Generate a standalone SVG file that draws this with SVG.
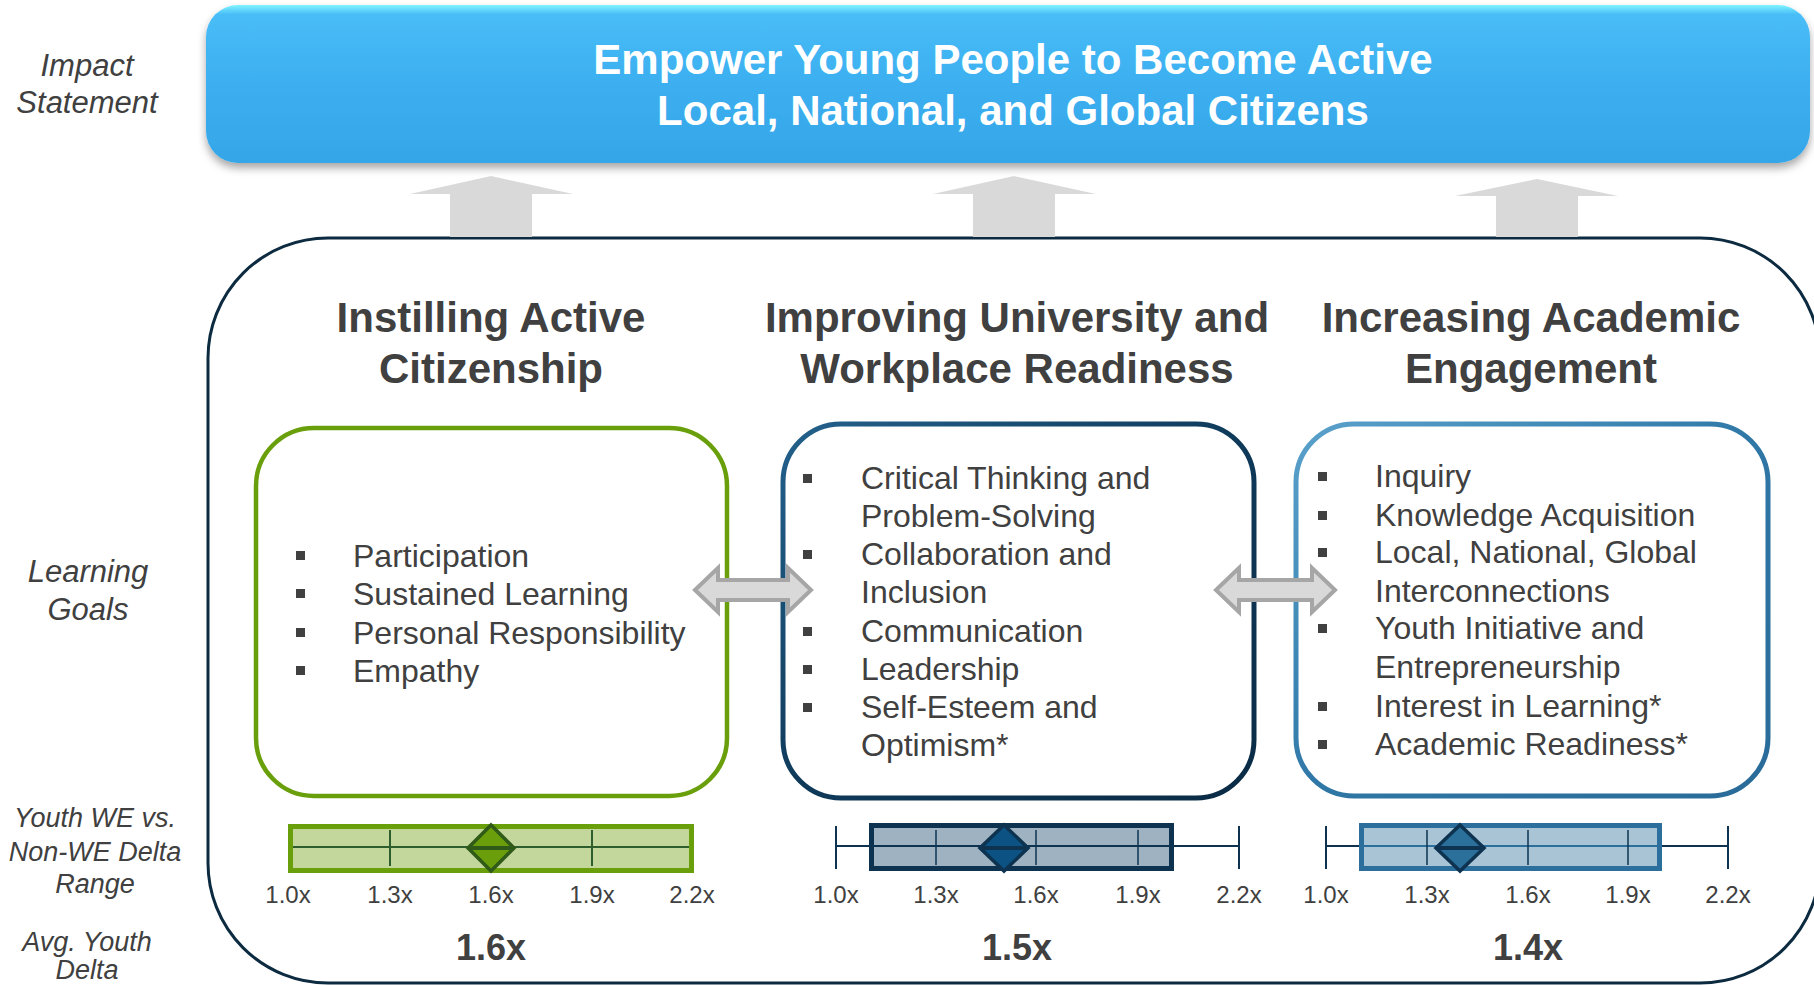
<svg xmlns="http://www.w3.org/2000/svg" width="1814" height="985" viewBox="0 0 1814 985">
  <defs>
    <style>
      .side { font-family: "Liberation Sans", Arial, sans-serif; font-style: italic; fill: #404040; text-anchor: middle; }
      .head { font-family: "Liberation Sans", Arial, sans-serif; font-weight: bold; font-size: 42px; fill: #404040; text-anchor: middle; }
      .item { font-family: "Liberation Sans", Arial, sans-serif; font-size: 32px; fill: #404040; }
      .axis { font-family: "Liberation Sans", Arial, sans-serif; font-size: 24px; fill: #404040; text-anchor: middle; }
      .avg { font-family: "Liberation Sans", Arial, sans-serif; font-weight: bold; font-size: 36px; fill: #404040; text-anchor: middle; }
      .banner-text { font-family: "Liberation Sans", Arial, sans-serif; font-weight: bold; font-size: 42px; fill: #ffffff; text-anchor: middle; }
      .bullet { fill: #404040; }
      .uparrow { fill: #d9d9d9; }
      .twoway { fill: #d9d9d9; stroke: #a6a6a6; stroke-width: 4; stroke-linejoin: miter; }
    </style>
    <linearGradient id="bannerFill" x1="0" y1="0" x2="0" y2="1">
      <stop offset="0" stop-color="#7ff4ff"/>
      <stop offset="0.06" stop-color="#48bdf7"/>
      <stop offset="0.5" stop-color="#3caff0"/>
      <stop offset="1" stop-color="#35a6e8"/>
    </linearGradient>
    <linearGradient id="navyEdge" x1="0" y1="0" x2="1" y2="1">
      <stop offset="0" stop-color="#23618c"/>
      <stop offset="0.5" stop-color="#0f3a5a"/>
      <stop offset="1" stop-color="#0a2b45"/>
    </linearGradient>
    <linearGradient id="steelEdge" x1="0" y1="0" x2="1" y2="1">
      <stop offset="0" stop-color="#5aa2cc"/>
      <stop offset="0.5" stop-color="#2f77a6"/>
      <stop offset="1" stop-color="#2a6b98"/>
    </linearGradient>
    <filter id="bannerShadow" x="-5%" y="-10%" width="110%" height="130%">
      <feDropShadow dx="0" dy="5" stdDeviation="4" flood-color="#000" flood-opacity="0.35"/>
    </filter>
  </defs>

  <rect width="1814" height="985" fill="#ffffff"/>

  <!-- row labels on the left -->
  <g id="row-labels">
    <text class="side" font-size="31" x="87" y="76">Impact</text>
    <text class="side" font-size="31" x="87" y="113">Statement</text>
    <text class="side" font-size="31" x="88" y="582">Learning</text>
    <text class="side" font-size="31" x="88" y="620">Goals</text>
    <text class="side" font-size="27" x="95" y="827">Youth WE vs.</text>
    <text class="side" font-size="27" x="95" y="861">Non-WE Delta</text>
    <text class="side" font-size="27" x="95" y="893">Range</text>
    <text class="side" font-size="27" x="87" y="951">Avg. Youth</text>
    <text class="side" font-size="27" x="87" y="979">Delta</text>
  </g>

  <!-- impact statement banner -->
  <g id="impact-banner">
    <rect x="206" y="5" width="1604" height="158" rx="32" fill="url(#bannerFill)" filter="url(#bannerShadow)"/>
    <text class="banner-text" x="1013" y="74">Empower Young People to Become Active</text>
    <text class="banner-text" x="1013" y="125">Local, National, and Global Citizens</text>
  </g>

  <!-- frame around the three learning goals -->
  <g id="goals-frame">
    <rect x="208" y="238" width="1612" height="745" rx="120" fill="none" stroke="#0d2b40" stroke-width="3"/>
  </g>

  <!-- goal 1 -->
  <g id="goal-citizenship">
    <text class="head" x="491" y="332">Instilling Active</text>
    <text class="head" x="491" y="383">Citizenship</text>
    <rect x="256" y="428" width="471" height="368" rx="58" fill="#ffffff" stroke="#6a9f0c" stroke-width="4.5"/>
    <rect class="bullet" x="296" y="551" width="9" height="9"/>
    <rect class="bullet" x="296" y="589" width="9" height="9"/>
    <rect class="bullet" x="296" y="628" width="9" height="9"/>
    <rect class="bullet" x="296" y="666" width="9" height="9"/>
    <text class="item" x="353" y="567">Participation</text>
    <text class="item" x="353" y="605">Sustained Learning</text>
    <text class="item" x="353" y="644">Personal Responsibility</text>
    <text class="item" x="353" y="682">Empathy</text>
    <!-- delta range 1.0x to 2.2x -->
    <rect x="290.5" y="826.5" width="401" height="44" fill="#c3d69b" stroke="#6a9f0c" stroke-width="5"/>
    <line x1="293" y1="847" x2="689" y2="847" stroke="#2e5e2e" stroke-width="2"/>
    <line x1="390" y1="830" x2="390" y2="866" stroke="#2e5e2e" stroke-width="2"/>
    <line x1="592" y1="830" x2="592" y2="866" stroke="#2e5e2e" stroke-width="2"/>
    <polygon points="491,825 514,848 491,871 468,848" fill="#6a9e0a" stroke="#2f5a17" stroke-width="3.5" stroke-linejoin="miter"/>
    <line x1="468" y1="848" x2="514" y2="848" stroke="#2f5a17" stroke-width="4"/>
    <text class="axis" x="288" y="903">1.0x</text>
    <text class="axis" x="390" y="903">1.3x</text>
    <text class="axis" x="491" y="903">1.6x</text>
    <text class="axis" x="592" y="903">1.9x</text>
    <text class="axis" x="692" y="903">2.2x</text>
    <text class="avg" x="491" y="960">1.6x</text>
  </g>

  <!-- goal 2 -->
  <g id="goal-readiness">
    <text class="head" x="1017" y="332">Improving University and</text>
    <text class="head" x="1017" y="383">Workplace Readiness</text>
    <rect x="783" y="424" width="471" height="374" rx="58" fill="#ffffff" stroke="url(#navyEdge)" stroke-width="5"/>
    <rect class="bullet" x="803" y="474" width="9" height="9"/>
    <rect class="bullet" x="803" y="550" width="9" height="9"/>
    <rect class="bullet" x="803" y="627" width="9" height="9"/>
    <rect class="bullet" x="803" y="665" width="9" height="9"/>
    <rect class="bullet" x="803" y="703" width="9" height="9"/>
    <text class="item" x="861" y="489">Critical Thinking and</text>
    <text class="item" x="861" y="527">Problem-Solving</text>
    <text class="item" x="861" y="565">Collaboration and</text>
    <text class="item" x="861" y="603">Inclusion</text>
    <text class="item" x="861" y="642">Communication</text>
    <text class="item" x="861" y="680">Leadership</text>
    <text class="item" x="861" y="718">Self-Esteem and</text>
    <text class="item" x="861" y="756">Optimism*</text>
    <!-- delta range 1.1x to 2.0x, whiskers 1.0x to 2.2x -->
    <line x1="836" y1="846" x2="1239" y2="846" stroke="#0d3350" stroke-width="2"/>
    <line x1="836" y1="826" x2="836" y2="869" stroke="#0d3350" stroke-width="2"/>
    <line x1="1239" y1="826" x2="1239" y2="869" stroke="#0d3350" stroke-width="2"/>
    <rect x="871.5" y="825.5" width="300" height="43" fill="#9fb2c1" stroke="#0d3350" stroke-width="5"/>
    <line x1="874" y1="846" x2="1169" y2="846" stroke="#0d3350" stroke-width="2"/>
    <line x1="936" y1="830" x2="936" y2="865" stroke="#0d3350" stroke-width="1.5"/>
    <line x1="1036" y1="830" x2="1036" y2="865" stroke="#0d3350" stroke-width="1.5"/>
    <line x1="1138" y1="830" x2="1138" y2="865" stroke="#0d3350" stroke-width="1.5"/>
    <polygon points="1004,825 1028,848 1004,871 980,848" fill="#0c5282" stroke="#0d3350" stroke-width="3.5" stroke-linejoin="miter"/>
    <line x1="980" y1="848" x2="1028" y2="848" stroke="#0d3350" stroke-width="4"/>
    <text class="axis" x="836" y="903">1.0x</text>
    <text class="axis" x="936" y="903">1.3x</text>
    <text class="axis" x="1036" y="903">1.6x</text>
    <text class="axis" x="1138" y="903">1.9x</text>
    <text class="axis" x="1239" y="903">2.2x</text>
    <text class="avg" x="1017" y="960">1.5x</text>
  </g>

  <!-- goal 3 -->
  <g id="goal-engagement">
    <text class="head" x="1531" y="332">Increasing Academic</text>
    <text class="head" x="1531" y="383">Engagement</text>
    <rect x="1296" y="424" width="472" height="372" rx="58" fill="#ffffff" stroke="url(#steelEdge)" stroke-width="5"/>
    <rect class="bullet" x="1318" y="472" width="9" height="9"/>
    <rect class="bullet" x="1318" y="511" width="9" height="9"/>
    <rect class="bullet" x="1318" y="548" width="9" height="9"/>
    <rect class="bullet" x="1318" y="624" width="9" height="9"/>
    <rect class="bullet" x="1318" y="702" width="9" height="9"/>
    <rect class="bullet" x="1318" y="740" width="9" height="9"/>
    <text class="item" x="1375" y="487">Inquiry</text>
    <text class="item" x="1375" y="526">Knowledge Acquisition</text>
    <text class="item" x="1375" y="563">Local, National, Global</text>
    <text class="item" x="1375" y="602">Interconnections</text>
    <text class="item" x="1375" y="639">Youth Initiative and</text>
    <text class="item" x="1375" y="678">Entrepreneurship</text>
    <text class="item" x="1375" y="717">Interest in Learning*</text>
    <text class="item" x="1375" y="755">Academic Readiness*</text>
    <!-- delta range 1.1x to 2.0x, whiskers 1.0x to 2.2x -->
    <line x1="1326" y1="846" x2="1728" y2="846" stroke="#0d3350" stroke-width="2"/>
    <line x1="1326" y1="826" x2="1326" y2="869" stroke="#0d3350" stroke-width="2"/>
    <line x1="1728" y1="826" x2="1728" y2="869" stroke="#0d3350" stroke-width="2"/>
    <rect x="1361.5" y="825.5" width="298" height="43" fill="#a9c5d5" stroke="#2d6f9c" stroke-width="5"/>
    <line x1="1364" y1="846" x2="1657" y2="846" stroke="#2d6f9c" stroke-width="2"/>
    <line x1="1427" y1="830" x2="1427" y2="865" stroke="#0d3350" stroke-width="1.5"/>
    <line x1="1528" y1="830" x2="1528" y2="865" stroke="#0d3350" stroke-width="1.5"/>
    <line x1="1628" y1="830" x2="1628" y2="865" stroke="#0d3350" stroke-width="1.5"/>
    <polygon points="1460,825 1484,848 1460,871 1436,848" fill="#2b6f9b" stroke="#0d3350" stroke-width="3.5" stroke-linejoin="miter"/>
    <line x1="1436" y1="848" x2="1484" y2="848" stroke="#0d3350" stroke-width="4"/>
    <text class="axis" x="1326" y="903">1.0x</text>
    <text class="axis" x="1427" y="903">1.3x</text>
    <text class="axis" x="1528" y="903">1.6x</text>
    <text class="axis" x="1628" y="903">1.9x</text>
    <text class="axis" x="1728" y="903">2.2x</text>
    <text class="avg" x="1528" y="960">1.4x</text>
  </g>

  <!-- arrows: goals feed the impact statement; neighbouring goals reinforce each other -->
  <g id="connectors">
    <polygon class="uparrow" points="491,176 573,194 532,194 532,237 450,237 450,194 410,194"/>
    <polygon class="uparrow" points="1014,176 1096,194 1055,194 1055,237 973,237 973,194 933,194"/>
    <polygon class="uparrow" points="1537,179 1618,196 1578,196 1578,237 1496,237 1496,196 1455,196"/>
    <polygon class="twoway" points="695,590 718,568 718,580 788,580 788,568 811,590 788,612 788,600 718,600 718,612"/>
    <polygon class="twoway" points="1216,590 1239,568 1239,580 1312,580 1312,568 1335,590 1312,612 1312,600 1239,600 1239,612"/>
  </g>
</svg>
